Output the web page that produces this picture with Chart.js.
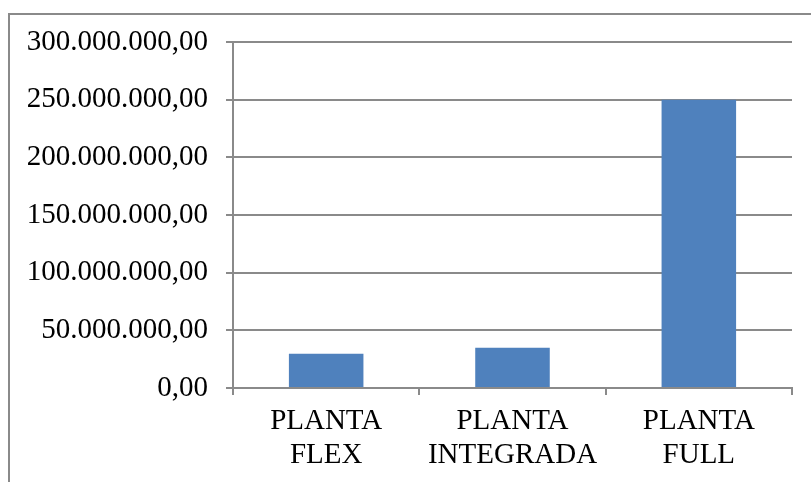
<!DOCTYPE html>
<html>
<head>
<meta charset="utf-8">
<script src="https://cdn.jsdelivr.net/npm/chart.js@4/dist/chart.umd.min.js"></script>
<style>
  html, body { margin: 0; padding: 0; background: #fff; }
  #wrap { position: relative; width: 811px; height: 482px; overflow: hidden; }
  #frame { position: absolute; left: 8px; top: 13px; width: 820px; height: 480px;
           border-left: 2px solid #8a8a8a; border-top: 2px solid #8a8a8a; box-sizing: border-box; }
  canvas { position: absolute; left: 0; top: 0; }
</style>
</head>
<body>
<div id="wrap">
  <div id="frame"></div>
  <canvas id="c" width="811" height="482"></canvas>
</div>
<script>
// Investment per plant type
const categories = [['PLANTA', 'FLEX'], ['PLANTA', 'INTEGRADA'], ['PLANTA', 'FULL']];
const values = [29800000, 34800000, 250000000];
const yMax = 300000000;
const yStep = 50000000;

// 300000000 -> "300.000.000,00"
function formatBR(v) {
  const parts = Math.round(v * 100);
  const intPart = Math.floor(parts / 100).toString().replace(/\B(?=(\d{3})+(?!\d))/g, '.');
  const dec = String(parts % 100).padStart(2, '0');
  return intPart + ',' + dec;
}

const labelFont = { family: '"Liberation Serif", "Times New Roman", serif', size: 29, lineHeight: 1.15 };
const axisGray = '#8a8a8a';

new Chart(document.getElementById('c'), {
  type: 'bar',
  data: {
    labels: categories,
    datasets: [{
      data: values,
      backgroundColor: '#4F81BD',
      borderWidth: 0,
      categoryPercentage: 1.0,
      barPercentage: 0.4
    }]
  },
  options: {
    responsive: false,
    animation: false,
    layout: { padding: { left: 0, top: 42, right: 19, bottom: 0 } },
    plugins: { legend: { display: false }, tooltip: { enabled: false } },
    scales: {
      x: {
        grid: { drawOnChartArea: false, drawTicks: true, tickLength: 7, color: axisGray, lineWidth: 2 },
        border: { display: true, color: axisGray, width: 2 },
        ticks: { font: labelFont, color: '#000', padding: 10, maxRotation: 0, autoSkip: false },
        afterFit: s => { s.height = 482 - 388; }
      },
      y: {
        min: 0,
        max: yMax,
        grid: { drawTicks: true, tickLength: 7, color: axisGray, lineWidth: 2 },
        border: { display: true, color: axisGray, width: 2 },
        ticks: { stepSize: yStep, font: labelFont, color: '#000', padding: 18, callback: v => formatBR(v) },
        afterFit: s => { s.width = 233; }
      }
    }
  }
});
</script>
</body>
</html>
